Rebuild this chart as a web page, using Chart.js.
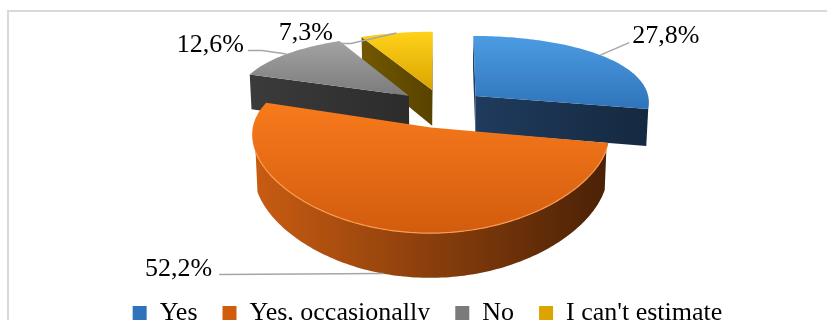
<!DOCTYPE html>
<html>
<head>
<meta charset="utf-8">
<script src="https://cdn.jsdelivr.net/npm/chart.js@4.4.1/dist/chart.umd.min.js"></script>
<style>
    html, body { margin: 0; padding: 0; background: #fff; overflow: hidden; }
    #wrap { position: relative; width: 827px; height: 336px; }
    #frame { position: absolute; left: 7px; top: 10px; width: 840px; height: 400px;
             border-top: 2px solid #d9d9d9; border-left: 2px solid #d9d9d9; }
    canvas { position: absolute; left: 0; top: 0; }
</style>
</head>
<body>
<div id="wrap">
    <div id="frame"></div>
    <canvas id="pieChart" width="827" height="336"></canvas>
</div>
<script>
const categories = ['Yes', 'Yes, occasionally', 'No', "I can't estimate"];
const shares = [27.8, 52.2, 12.6, 7.3];
const valueLabels = shares.map(v => v.toFixed(1).replace('.', ',') + '%');

// top face gradient (light -> dark) and side gradient (left -> right)
const topColors = [['#4c9ce3', '#2f74ba'], ['#f87a1c', '#d25c0e'], ['#a3a3a3', '#7b7b7b'], ['#ffd21a', '#dba400']];
const sideColors = [['#1f3b5e', '#15293f'], ['#c95c12', '#4a2106'], ['#3b3b3b', '#2c2c2c'], ['#735800', '#574200']];
const rimColors = ['#5aa6e8', '#fb9a50', '#b0b0b0', '#ffdc50'];

// 3D view of the pie (distX: weaker horizontal perspective)
const view = { shiftX: 14.5, cy: 145, radius: 173, depth: 41, tilt: 28, dist: 800, distX: 2000, explode: 44 };
const T = view.tilt * Math.PI / 180;

// leader lines: elbow offset from the slice edge, horizontal tail, text gap / baseline shift
const labelLeads = [
    { dx: 29, dy: -12.5, tail: 0, gap: 3, ty: 0 },
    { dx: -164, dy: 1, tail: 0, gap: 7, ty: 1 },
    { dx: -24.5, dy: -3.5, tail: -14, gap: 4, ty: 1 },
    { dx: -45.5, dy: 10.5, tail: -12, gap: 6, ty: -4 }
];

function project(X0, u, v, h) {
    const d = v * Math.cos(T) + h * Math.sin(T);
    const ky = view.dist / (view.dist - d);
    const kx = view.distX / (view.distX - d);
    return [X0 + u * kx, view.cy + (v * Math.sin(T) - h * Math.cos(T)) * ky];
}

function faceVisible(nu, nv, u, v) {
    return nu * (0 - u) + nv * (view.dist * Math.cos(T) - v) > 0;
}

function tracePoly(ctx, pts, close) {
    ctx.beginPath();
    pts.forEach((p, j) => j ? ctx.lineTo(p[0], p[1]) : ctx.moveTo(p[0], p[1]));
    if (close) ctx.closePath();
}

function fillPoly(ctx, pts, style) {
    tracePoly(ctx, pts, true);
    ctx.fillStyle = style;
    ctx.fill();
}

function midAngle(arc) {
    return (arc.startAngle + arc.endAngle) / 2;
}

function drawWedge(ctx, arc, i, X0) {
    const a0 = arc.startAngle, a1 = arc.endAngle, m = midAngle(arc);
    const ou = Math.cos(m) * view.explode, ov = Math.sin(m) * view.explode;
    const R = view.radius, H = view.depth;
    const at = (ang, r, h) => project(X0, ou + Math.cos(ang) * r, ov + Math.sin(ang) * r, h);

    const n = Math.max(6, Math.ceil((a1 - a0) / 0.02));
    const angs = [];
    for (let j = 0; j <= n; j++) angs.push(a0 + (a1 - a0) * j / n);
    const topArc = angs.map(a => at(a, R, H));
    const botArc = angs.map(a => at(a, R, 0));
    const topFace = [at(0, 0, H)].concat(topArc);

    const xs = topFace.concat(botArc).map(p => p[0]);
    const side = ctx.createLinearGradient(Math.min(...xs), 0, Math.max(...xs), 0);
    side.addColorStop(0, sideColors[i][0]);
    side.addColorStop(1, sideColors[i][1]);

    // radial faces
    [[a0, -1], [a1, 1]].forEach(([a, s]) => {
        const nu = -s * Math.sin(a), nv = s * Math.cos(a);
        const u = ou + Math.cos(a) * R / 2, v = ov + Math.sin(a) * R / 2;
        if (faceVisible(nu, nv, u, v)) {
            fillPoly(ctx, [at(0, 0, H), at(a, R, H), at(a, R, 0), at(0, 0, 0)], side);
        }
    });

    // curved outer side, drawn in visible runs
    const rims = [];
    let run = [];
    const flush = () => {
        if (run.length) {
            const k0 = run[0], k1 = run[run.length - 1] + 1;
            const pts = topArc.slice(k0, k1 + 1).concat(botArc.slice(k0, k1 + 1).reverse());
            fillPoly(ctx, pts, side);
            rims.push(topArc.slice(k0, k1 + 1));
            run = [];
        }
    };
    for (let j = 0; j < n; j++) {
        const ph = (angs[j] + angs[j + 1]) / 2;
        const u = ou + Math.cos(ph) * R, v = ov + Math.sin(ph) * R;
        if (faceVisible(Math.cos(ph), Math.sin(ph), u, v)) run.push(j);
        else flush();
    }
    flush();

    // top face
    const ys = topFace.map(p => p[1]);
    const g = ctx.createLinearGradient(0, Math.min(...ys), 0, Math.max(...ys));
    g.addColorStop(0, topColors[i][0]);
    g.addColorStop(1, topColors[i][1]);
    fillPoly(ctx, topFace, g);

    // light rim along the front edge
    rims.forEach(pts => {
        tracePoly(ctx, pts, false);
        ctx.strokeStyle = rimColors[i];
        ctx.lineWidth = 1.2;
        ctx.stroke();
    });
}

function drawLabel(ctx, arc, i, X0) {
    const m = midAngle(arc);
    const ou = Math.cos(m) * view.explode, ov = Math.sin(m) * view.explode;
    const u = ou + Math.cos(m) * view.radius, v = ov + Math.sin(m) * view.radius;
    const front = faceVisible(Math.cos(m), Math.sin(m), u, v);
    const a = project(X0, u, v, front ? 0 : view.depth);
    const lead = labelLeads[i];
    const e = [a[0] + lead.dx, a[1] + lead.dy];
    const end = [e[0] + lead.tail, e[1]];

    tracePoly(ctx, [a, e, end], false);
    ctx.strokeStyle = '#a6a6a6';
    ctx.lineWidth = 1.5;
    ctx.stroke();

    const right = lead.dx < 0;
    ctx.font = '26px "Liberation Serif"';
    ctx.fillStyle = '#000';
    ctx.textBaseline = 'alphabetic';
    ctx.textAlign = right ? 'right' : 'left';
    ctx.fillText(valueLabels[i], end[0] + (right ? -lead.gap : lead.gap), end[1] + lead.ty);
}

const pie3d = {
    id: 'pie3d',
    beforeDatasetsDraw(chart) {
        const ctx = chart.ctx;
        const arcs = chart.getDatasetMeta(0).data;
        const X0 = arcs[0].x + view.shiftX;
        const order = arcs.map((a, i) => i)
            .sort((p, q) => Math.sin(midAngle(arcs[p])) - Math.sin(midAngle(arcs[q])));
        ctx.save();
        order.forEach(i => drawWedge(ctx, arcs[i], i, X0));
        arcs.forEach((a, i) => drawLabel(ctx, a, i, X0));
        ctx.restore();
        return false;
    }
};

document.addEventListener('DOMContentLoaded', function() {
    const pieCtx = document.getElementById('pieChart').getContext('2d');
    new Chart(pieCtx, {
        type: 'pie',
        data: {
            labels: categories,
            datasets: [{
                data: shares,
                backgroundColor: topColors.map(c => c[1]),
                borderWidth: 0
            }]
        },
        options: {
            responsive: false,
            animation: false,
            layout: { padding: { left: 28 } },
            plugins: {
                legend: {
                    position: 'bottom',
                    labels: {
                        font: { family: 'Liberation Serif', size: 26 },
                        color: '#000',
                        boxWidth: 14,
                        boxHeight: 14,
                        padding: 25
                    }
                },
                tooltip: { enabled: false }
            }
        },
        plugins: [pie3d]
    });
});
</script>
</body>
</html>
